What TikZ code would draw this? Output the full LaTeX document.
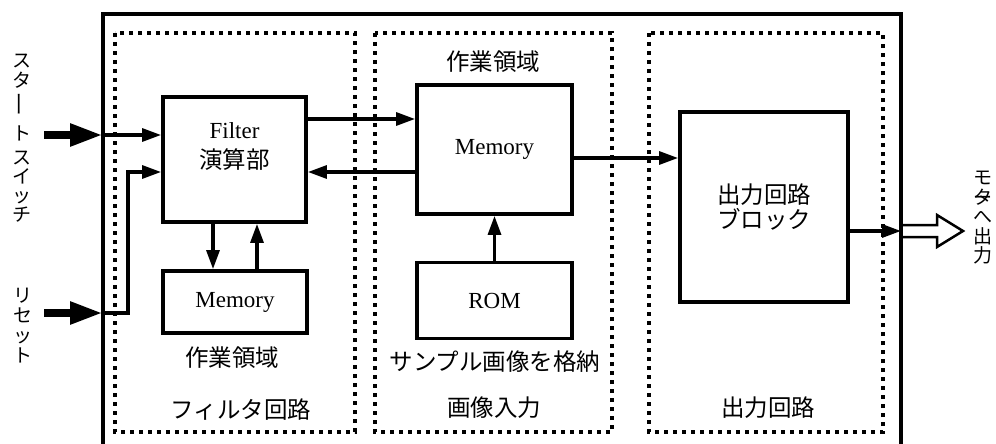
\documentclass[tikz,border=0pt]{standalone}
\usepackage{fontspec}
\setmainfont{Liberation Serif}
\newfontfamily\jp{Noto Sans CJK JP}
\usepackage{graphicx}
\usetikzlibrary{arrows.meta}
\begin{document}
\begin{tikzpicture}[x=1pt,y=-1pt,
  frame/.style={line width=3.8pt},
  region/.style={line width=4pt, dash pattern=on 4pt off 5pt},
  blk/.style={draw, line width=3.8pt, inner sep=0pt},
  lat/.style={font=\fontsize{23}{26}\selectfont},
  jtxt/.style={font=\jp\fontsize{23.5}{25}\selectfont},
  conn/.style={line width=3.2pt, -{Triangle[length=19pt,width=13pt]}},
  bigin/.style={line width=8pt, -{Triangle[length=33pt,width=21pt]}},
  vtxt/.style={align=center, inner sep=0pt, font=\jp\fontsize{19}{19}\selectfont}]
\useasboundingbox (0,0) rectangle (996,444);
\clip (0,0) rectangle (996,444);
% frame and regions
\draw[frame] (103,14) rectangle (901,470);
\draw[region] (115,33) rectangle (355,432);
\draw[region] (375,33) rectangle (612,432);
\draw[region] (649,33) rectangle (883,432);
% blocks
\node[blk, minimum width=143pt, minimum height=125pt] (filt) at (234.5,159.5) {};
\node[lat] (ft) at (234.5,131) {Filter};
\node[jtxt] (fj) at (234.5,160) {演算部};
\node[blk, lat, minimum width=144pt, minimum height=62pt] (smem) at (235,302) {Memory};
\node[blk, lat, minimum width=155pt, minimum height=129pt] (mem) at (494.5,149.5) {Memory};
\node[blk, lat, minimum width=155pt, minimum height=76pt] (rom) at (494.5,300.5) {ROM};
\node[blk, jtxt, align=center, minimum width=168pt, minimum height=190pt] (outb) at (764,207) {出力回路\\ブロック};
% labels
\node[jtxt] (wa1) at (493,62) {作業領域};
\node[jtxt] (wa2) at (232,358) {作業領域};
\node[jtxt] (lf) at (241,410) {フィルタ回路};
\node[jtxt] (ls) at (495,362) {サンプル画像を格納};
\node[jtxt] (li) at (494,408) {画像入力};
\node[jtxt] (lo) at (768,408) {出力回路};
% vertical texts
\node[vtxt] (start) at (22,138) {ス\\[1pt]タ\\[5pt]\raisebox{3pt}{\smash{\rotatebox[origin=c]{90}{\scalebox{1.3}[1]{ー}}}}\\[10pt]ト\\[5pt]ス\\イ\\ッ\\チ};
\node[vtxt, font=\jp\fontsize{19}{20}\selectfont] (reset) at (23,326) {リ\\セ\\ッ\\ト};
\node[vtxt, font=\jp\fontsize{19}{19.5}\selectfont] (motor) at (983,218) {モ\\\rlap{ー}タ\\へ\\出\\力};
% helper coordinates
\coordinate (sIn) at (44,135);
\coordinate (sF) at (103,135);
\coordinate (rIn) at (44,313);
\coordinate (rF) at (103,313);
\coordinate (rB) at (128,172);
\coordinate (y119) at (0,119);
\coordinate (y172) at (0,172);
\coordinate (y158) at (0,158);
\coordinate (x213) at (213,0);
\coordinate (x257) at (257,0);
\coordinate (oF) at (901,231);
% inputs
\draw[bigin] (sIn) -- (sF);
\draw[conn] (sF) -- (sF -| filt.west);
\draw[bigin] (rIn) -- (rF);
\draw[conn] (rF) -| (rB) -- (rB -| filt.west);
% internal connectors
\draw[conn] (filt.east |- y119) -- (mem.west |- y119);
\draw[conn] (mem.west |- y172) -- (filt.east |- y172);
\draw[conn] (filt.south -| x213) -- (smem.north -| x213);
\draw[conn] (smem.north -| x257) -- (filt.south -| x257);
\draw[conn] (rom.north) -- (rom.north |- mem.south);
\draw[conn] (mem.east |- y158) -- (outb.west |- y158);
\draw[conn] (outb.east |- oF) -- (oF);
% hollow output arrow
\draw[line width=2.5pt] (902,225) -- (937,225) -- (937,215) -- (963,231) -- (937,247) -- (937,237) -- (902,237);
\end{tikzpicture}
\end{document}
